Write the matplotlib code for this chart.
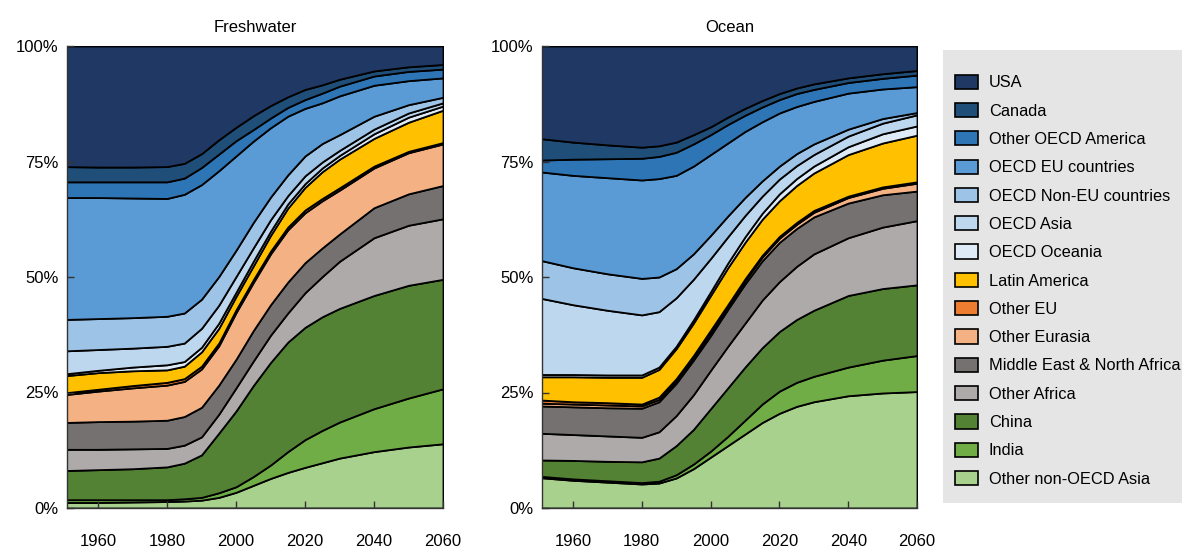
import numpy as np
import matplotlib.pyplot as plt
from matplotlib.patches import Patch, Rectangle

plt.rcParams['font.family'] = ['Liberation Sans', 'DejaVu Sans']

years = [1950, 1960, 1970, 1980, 1985, 1990, 1995, 2000, 2005, 2010, 2015, 2020, 2025, 2030, 2040, 2050, 2060]

# legend order (top of stack first)
labels = ["USA", "Canada", "Other OECD America", "OECD EU countries", "OECD Non-EU countries",
          "OECD Asia", "OECD Oceania", "Latin America", "Other EU", "Other Eurasia",
          "Middle East & North Africa", "Other Africa", "China", "India", "Other non-OECD Asia"]
colors = ["#1f3864", "#1f4e79", "#2e75b6", "#5b9bd5", "#9dc3e6",
          "#bdd7ee", "#deebf7", "#ffc000", "#ed7d31", "#f4b183",
          "#767171", "#aeaaaa", "#548235", "#70ad47", "#a9d18e"]

# cumulative share (%) at the top of each band
# Freshwater
fw_other_asia = [1.2, 1.2, 1.3, 1.4, 1.5, 1.7, 2.3, 3.4, 4.9, 6.4, 7.7, 8.8, 9.8, 10.8, 12.2, 13.2, 13.9]
fw_india = [1.8, 1.8, 1.8, 1.8, 2.0, 2.3, 3.3, 4.6, 6.8, 9.3, 12.2, 14.8, 16.8, 18.6, 21.5, 23.8, 25.8]
fw_china = [8.1, 8.3, 8.5, 8.9, 9.7, 11.5, 16.2, 21.0, 26.5, 31.5, 35.9, 39.1, 41.4, 43.2, 46.0, 48.2, 49.5]
fw_other_africa = [12.7, 12.7, 12.8, 12.9, 13.6, 15.4, 20.3, 26.0, 31.8, 37.4, 42.2, 46.6, 50.1, 53.4, 58.5, 61.2, 62.6]
fw_mena = [18.5, 18.7, 18.8, 19.0, 19.8, 21.8, 26.6, 32.2, 38.4, 44.0, 48.9, 53.1, 56.3, 59.3, 65.0, 68.0, 69.8]
fw_eurasia = [24.5, 25.3, 26.0, 26.6, 27.4, 30.1, 35.1, 42.3, 48.8, 55.0, 60.2, 63.9, 66.5, 68.8, 73.6, 76.9, 78.8]
fw_other_eu = [24.9, 25.7, 26.5, 27.2, 28.0, 30.7, 35.7, 42.9, 49.4, 55.6, 60.8, 64.5, 67.0, 69.3, 74.0, 77.2, 79.1]
fw_latin = [28.6, 29.3, 29.7, 29.9, 30.7, 33.8, 38.9, 45.8, 52.4, 59.0, 64.9, 69.4, 72.8, 75.5, 80.0, 83.5, 86.1]
fw_oceania = [29.0, 29.8, 30.5, 31.0, 31.7, 34.8, 40.0, 46.7, 53.4, 59.9, 65.8, 70.2, 73.6, 76.3, 81.0, 84.6, 87.0]
fw_oecd_asia = [34.0, 34.3, 34.6, 35.0, 35.7, 38.9, 43.9, 50.1, 56.3, 62.4, 67.6, 71.9, 74.9, 77.4, 82.0, 85.5, 87.7]
fw_non_eu = [40.8, 41.0, 41.2, 41.5, 42.2, 45.2, 50.1, 55.8, 61.8, 67.3, 72.1, 76.2, 78.9, 80.8, 84.8, 87.3, 88.9]
fw_eu = [67.2, 67.2, 67.1, 67.0, 67.9, 70.0, 73.0, 76.2, 79.4, 82.3, 84.8, 86.5, 87.7, 89.2, 91.5, 92.5, 93.1]
fw_other_am = [70.6, 70.6, 70.6, 70.6, 71.4, 73.7, 76.6, 79.5, 81.9, 84.4, 86.7, 88.4, 89.8, 91.3, 93.5, 94.5, 95.0]
fw_canada = [73.9, 73.8, 73.8, 73.9, 74.6, 76.7, 79.7, 82.4, 84.9, 87.1, 89.0, 90.6, 91.6, 92.8, 94.6, 95.5, 96.0]
fw_usa = [100] * len(years)

# Ocean
oc_other_asia = [6.6, 6.0, 5.6, 5.2, 5.4, 6.5, 8.5, 11.0, 13.5, 16.0, 18.5, 20.5, 22.0, 23.0, 24.3, 24.9, 25.2]
oc_india = [6.9, 6.3, 5.9, 5.5, 5.8, 7.2, 9.5, 12.3, 15.5, 19.0, 22.5, 25.3, 27.2, 28.5, 30.5, 32.0, 33.0]
oc_china = [10.4, 10.3, 10.1, 10.0, 10.8, 13.5, 17.0, 21.5, 26.0, 30.5, 34.7, 38.2, 40.8, 42.8, 46.0, 47.5, 48.3]
oc_other_africa = [16.2, 15.9, 15.6, 15.3, 16.5, 20.0, 24.5, 29.8, 35.0, 40.0, 45.0, 49.0, 52.3, 55.0, 58.5, 60.8, 62.2]
oc_mena = [22.1, 21.9, 21.7, 21.6, 23.0, 27.0, 32.0, 37.3, 43.0, 48.5, 53.5, 57.5, 60.5, 63.0, 66.0, 67.8, 68.6]
oc_eurasia = [22.7, 22.5, 22.3, 22.1, 23.5, 27.5, 32.5, 38.0, 43.6, 49.2, 54.3, 58.4, 61.4, 64.0, 67.2, 69.2, 70.3]
oc_other_eu = [23.4, 23.0, 22.8, 22.5, 24.0, 28.0, 33.0, 38.5, 44.0, 49.6, 54.7, 58.8, 61.8, 64.4, 67.5, 69.5, 70.6]
oc_latin = [28.4, 28.4, 28.3, 28.3, 30.0, 34.5, 40.0, 46.0, 52.0, 57.5, 62.5, 66.5, 69.8, 72.5, 76.5, 79.0, 80.7]
oc_oceania = [28.9, 28.9, 28.8, 28.8, 30.5, 35.0, 40.7, 46.8, 53.0, 58.7, 63.8, 68.0, 71.3, 74.0, 78.2, 81.0, 82.7]
oc_oecd_asia = [45.5, 44.0, 42.8, 41.8, 42.5, 45.5, 49.5, 54.0, 58.7, 63.3, 67.5, 71.2, 74.1, 76.5, 80.5, 83.3, 85.1]
oc_non_eu = [53.7, 52.0, 50.7, 49.7, 50.0, 51.8, 55.0, 59.0, 63.2, 67.2, 70.8, 74.0, 76.7, 78.8, 82.0, 84.3, 85.6]
oc_eu = [72.8, 72.0, 71.5, 71.0, 71.3, 72.0, 74.0, 76.5, 79.0, 81.5, 83.6, 85.5, 86.9, 88.0, 89.8, 90.7, 91.2]
oc_other_am = [75.3, 75.5, 75.6, 75.7, 76.1, 77.0, 78.8, 80.8, 83.0, 85.0, 86.8, 88.4, 89.7, 90.6, 92.1, 93.0, 93.7]
oc_canada = [80.0, 79.2, 78.6, 78.1, 78.4, 79.2, 80.8, 82.5, 84.6, 86.5, 88.2, 89.7, 90.9, 91.8, 93.1, 94.0, 94.7]
oc_usa = [100] * len(years)

fresh_tops = [fw_other_asia, fw_india, fw_china, fw_other_africa, fw_mena, fw_eurasia, fw_other_eu,
              fw_latin, fw_oceania, fw_oecd_asia, fw_non_eu, fw_eu, fw_other_am, fw_canada, fw_usa]
ocean_tops = [oc_other_asia, oc_india, oc_china, oc_other_africa, oc_mena, oc_eurasia, oc_other_eu,
              oc_latin, oc_oceania, oc_oecd_asia, oc_non_eu, oc_eu, oc_other_am, oc_canada, oc_usa]


def draw_panel(ax, tops, title):
    tops = np.array(tops, dtype=float)
    shares = np.diff(np.vstack([np.zeros(len(years)), tops]), axis=0)
    ax.stackplot(years, shares, colors=colors[::-1], edgecolor="black", linewidth=1.3)
    ax.set_xlim(1951, 2060)
    ax.set_ylim(0, 100)
    ax.set_xticks([1960, 1980, 2000, 2020, 2040, 2060])
    ax.set_yticks([0, 25, 50, 75, 100])
    ax.set_yticklabels(["0%", "25%", "50%", "75%", "100%"])
    ax.tick_params(direction="in", length=5, width=1, color="#333333", labelsize=12)
    ax.tick_params(axis="x", pad=19)
    ax.tick_params(axis="y", pad=6)
    for s in ["top", "right"]:
        ax.spines[s].set_visible(False)
    for s in ["left", "bottom"]:
        ax.spines[s].set_color("#333333")
        ax.spines[s].set_linewidth(1)
    ax.set_title(title, fontsize=12, pad=10)


fig = plt.figure(figsize=(11.82, 5.51), dpi=100)
ax1 = fig.add_axes([67 / 1182, 43 / 551, 376 / 1182, 462 / 551])
ax2 = fig.add_axes([542 / 1182, 43 / 551, 375 / 1182, 462 / 551])
draw_panel(ax1, fresh_tops, "Freshwater")
draw_panel(ax2, ocean_tops, "Ocean")

# grey legend box
fig.patches.append(Rectangle((943 / 1182, 48 / 551), 239 / 1182, 453 / 551,
                             transform=fig.transFigure, facecolor="#e5e5e5",
                             edgecolor="none", zorder=0))
handles = [Patch(facecolor=c, edgecolor="black", linewidth=1.2, label=l)
           for c, l in zip(colors, labels)]
fig.legend(handles=handles, loc="upper left", bbox_to_anchor=(948 / 1182, 1 - 68 / 551),
           frameon=False, fontsize=11.8, handlelength=1.4, handleheight=0.95,
           labelspacing=0.77, handletextpad=0.7, borderaxespad=0)

fig.savefig("out.png", dpi=100)
